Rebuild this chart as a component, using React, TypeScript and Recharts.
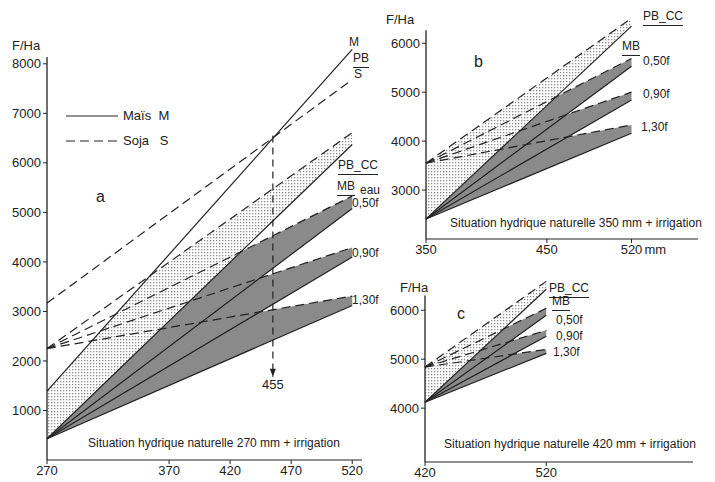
import React from 'react';
import { ComposedChart, Area, Line, XAxis, YAxis, ReferenceLine, ReferenceDot } from 'recharts';

// a : situation hydrique naturelle 270 mm + irrigation
const aX = [270, 520];
const aMais = [1390, 8290];
const aSoja = [3170, 7680];
const aPbccHaut = [2250, 6610];
const aPbccBas = [430, 6370];
const a050Haut = [2250, 5330];
const a050Bas = [430, 5080];
const a090Haut = [2250, 4290];
const a090Bas = [430, 4100];
const a130Haut = [2250, 3310];
const a130Bas = [430, 3120];
const aXTicks = [270, 370, 420, 470, 520];
const aYTicks = [1000, 2000, 3000, 4000, 5000, 6000, 7000, 8000];
const seuil = [{ x: 455, y: 6550 }, { x: 455, y: 1680 }];

// b : 350 mm
const bX = [350, 520];
const bPbccHaut = [3550, 6510];
const bPbccBas = [2410, 6350];
const b050Haut = [3550, 5690];
const b050Bas = [2410, 5530];
const b090Haut = [3550, 5000];
const b090Bas = [2410, 4840];
const b130Haut = [3550, 4330];
const b130Bas = [2410, 4160];
const bXTicks = [350, 450, 520];
const bYTicks = [3000, 4000, 5000, 6000];

// c : 420 mm
const cX = [420, 520];
const cPbccHaut = [4840, 6590];
const cPbccBas = [4120, 6430];
const c050Haut = [4840, 6040];
const c050Bas = [4120, 5900];
const c090Haut = [4840, 5590];
const c090Bas = [4120, 5470];
const c130Haut = [4840, 5200];
const c130Bas = [4120, 5120];
const cXTicks = [420, 520];
const cYTicks = [4000, 5000, 6000];

const INK = '#222';
const DARK = '#8a8a8a';
const DASH = '9 5';
const LW = 1.2;

const rowsA = aX.map((x, i) => ({
  x, mais: aMais[i], soja: aSoja[i],
  pbH: aPbccHaut[i], pbB: aPbccBas[i],
  h50: a050Haut[i], b50: a050Bas[i],
  h90: a090Haut[i], b90: a090Bas[i],
  h130: a130Haut[i], b130: a130Bas[i],
}));
const rowsB = bX.map((x, i) => ({
  x, pbH: bPbccHaut[i], pbB: bPbccBas[i],
  h50: b050Haut[i], b50: b050Bas[i],
  h90: b090Haut[i], b90: b090Bas[i],
  h130: b130Haut[i], b130: b130Bas[i],
}));
const rowsC = cX.map((x, i) => ({
  x, pbH: cPbccHaut[i], pbB: cPbccBas[i],
  h50: c050Haut[i], b50: c050Bas[i],
  h90: c090Haut[i], b90: c090Bas[i],
  h130: c130Haut[i], b130: c130Bas[i],
}));

const bands = ['50', '90', '130'];

function Note({ x, y, children, size = 12, u = false }: any) {
  return (
    <div style={{
      position: 'absolute', left: x, top: y, fontSize: size, lineHeight: 1,
      whiteSpace: 'nowrap', borderBottom: u ? `1.2px solid ${INK}` : 'none',
      paddingBottom: u ? 3 : 0,
    }}>{children}</div>
  );
}

function makeTick(mm?: number) {
  return (props: any) => {
    const { x, y, payload } = props;
    return (
      <g>
        <text x={x} y={y} dy="0.71em" textAnchor="middle" fontSize={13} fill={INK}>{payload.value}</text>
        {payload.value === mm && (
          <text x={x + 13} y={y} dy="0.71em" textAnchor="start" fontSize={13} fill={INK}>mm</text>
        )}
      </g>
    );
  };
}

function Panel({ id, rows, left, top, width, height, margin, yWidth, xHeight, xDomain, yDomain,
  xTicks, yTicks, axisTop, mm, children }: any) {
  const x0 = xDomain[0];
  return (
    <div style={{ position: 'absolute', left, top }}>
      <ComposedChart width={width} height={height} data={rows} margin={margin}>
        <defs>
          <pattern id={id} width="3" height="3" patternUnits="userSpaceOnUse">
            <rect width="3" height="3" fill="#fff" />
            <rect width="1.3" height="1.3" fill="#8c8c8c" />
          </pattern>
        </defs>
        <XAxis dataKey="x" type="number" domain={xDomain} ticks={xTicks} height={xHeight}
          stroke={INK} tickSize={4} tick={makeTick(mm)} />
        <YAxis type="number" domain={yDomain} ticks={yTicks} width={yWidth} axisLine={false}
          stroke={INK} tickSize={4} tick={{ fontSize: 13, fill: INK }} />
        {bands.map(k => (
          <Area key={'a' + k} type="linear" dataKey={(d: any) => [d['b' + k], d['h' + k]]}
            stroke="none" fill={DARK} fillOpacity={1} isAnimationActive={false} />
        ))}
        <Area type="linear" dataKey={(d: any) => [d.pbB, d.pbH]} stroke="none"
          fill={`url(#${id})`} fillOpacity={1} isAnimationActive={false} />
        {children}
        <Line type="linear" dataKey="pbB" stroke={INK} strokeWidth={LW} dot={false} isAnimationActive={false} />
        <Line type="linear" dataKey="pbH" stroke={INK} strokeWidth={LW} strokeDasharray={DASH} dot={false} isAnimationActive={false} />
        {bands.map(k => (
          <Line key={'b' + k} type="linear" dataKey={'b' + k} stroke={INK} strokeWidth={LW}
            dot={false} isAnimationActive={false} />
        ))}
        {bands.map(k => (
          <Line key={'h' + k} type="linear" dataKey={'h' + k} stroke={INK} strokeWidth={LW}
            strokeDasharray={DASH} dot={false} isAnimationActive={false} />
        ))}
        <ReferenceLine segment={[{ x: x0, y: yDomain[0] }, { x: x0, y: axisTop }]} stroke={INK} strokeWidth={1.3} />
      </ComposedChart>
    </div>
  );
}

const arrow = (p: any) => (
  <path d={`M${p.cx - 3},${p.cy - 8} L${p.cx + 3},${p.cy - 8} L${p.cx},${p.cy} Z`} fill={INK} />
);

export default function App() {
  return (
    <div style={{
      position: 'absolute', left: 0, top: 0, width: 715, height: 482, background: '#fff',
      overflow: 'hidden', fontFamily: '"Liberation Sans", Arial, sans-serif', color: INK,
    }}>
      <Panel id="pa" rows={rowsA} left={0} top={0} width={380} height={482}
        margin={{ top: 44, right: 18, bottom: 0, left: 0 }} yWidth={47} xHeight={22}
        xDomain={[270, 528]} yDomain={[0, 8400]} xTicks={aXTicks} yTicks={aYTicks} axisTop={8140}>
        <Area type="linear" dataKey={(d: any) => [d.mais, d.pbH]} stroke="none" fill="#fff"
          fillOpacity={1} isAnimationActive={false} />
        <Line type="linear" dataKey="mais" name="Maïs M" stroke={INK} strokeWidth={LW} dot={false} isAnimationActive={false} />
        <Line type="linear" dataKey="soja" name="Soja S" stroke={INK} strokeWidth={LW} strokeDasharray={DASH} dot={false} isAnimationActive={false} />
        <Line data={seuil} type="linear" dataKey="y" stroke={INK} strokeWidth={LW} strokeDasharray="7 5" dot={false} isAnimationActive={false} />
        <ReferenceDot x={455} y={1680} r={3} shape={arrow} />
      </Panel>
      <Panel id="pb" rows={rowsB} left={380} top={0} width={330} height={261}
        margin={{ top: 9, right: 12, bottom: 0, left: 0 }} yWidth={46} xHeight={22}
        xDomain={[350, 575]} yDomain={[2000, 6700]} xTicks={bXTicks} yTicks={bYTicks} axisTop={6265} mm={520} />
      <Panel id="pc" rows={rowsC} left={380} top={260} width={328} height={222}
        margin={{ top: 16, right: 15, bottom: 0, left: 0 }} yWidth={45} xHeight={20}
        xDomain={[420, 641]} yDomain={[2900, 6700]} xTicks={cXTicks} yTicks={cYTicks} axisTop={6300} />

      {/* panel a annotations */}
      <Note x={12} y={39} size={13}>F/Ha</Note>
      <Note x={96} y={189} size={16}>a</Note>
      <svg style={{ position: 'absolute', left: 66, top: 110 }} width={52} height={36}>
        <line x1={0} y1={6} x2={52} y2={6} stroke={INK} strokeWidth={LW} />
        <line x1={0} y1={31} x2={52} y2={31} stroke={INK} strokeWidth={LW} strokeDasharray={DASH} />
      </svg>
      <Note x={123} y={109} size={13}>Maïs&nbsp;&nbsp;M</Note>
      <Note x={123} y={134} size={13}>Soja&nbsp;&nbsp;&nbsp;S</Note>
      <Note x={349} y={36}>M</Note>
      <Note x={353} y={52} u>PB</Note>
      <Note x={354} y={68}>S</Note>
      <Note x={338} y={159} u>PB_CC</Note>
      <Note x={337} y={180} u>MB</Note>
      <Note x={360} y={184}>eau</Note>
      <Note x={352} y={197}>0,50f</Note>
      <Note x={352} y={247}>0,90f</Note>
      <Note x={352} y={294}>1,30f</Note>
      <Note x={262} y={378} size={13}>455</Note>
      <Note x={88} y={437}>Situation hydrique naturelle 270 mm + irrigation</Note>

      {/* panel b annotations */}
      <Note x={386} y={13} size={13}>F/Ha</Note>
      <Note x={474} y={54} size={16}>b</Note>
      <Note x={643} y={10} u>PB_CC</Note>
      <Note x={622} y={40} u>MB</Note>
      <Note x={643} y={55}>0,50f</Note>
      <Note x={643} y={88}>0,90f</Note>
      <Note x={641} y={121}>1,30f</Note>
      <Note x={450} y={217}>Situation hydrique naturelle 350 mm + irrigation</Note>

      {/* panel c annotations */}
      <Note x={400} y={281} size={13}>F/Ha</Note>
      <Note x={457} y={306} size={16}>c</Note>
      <Note x={549} y={282} u>PB_CC</Note>
      <Note x={552} y={295} u>MB</Note>
      <Note x={556} y={314}>0,50f</Note>
      <Note x={556} y={330}>0,90f</Note>
      <Note x={553} y={346}>1,30f</Note>
      <Note x={444} y={438}>Situation hydrique naturelle 420 mm + irrigation</Note>
    </div>
  );
}
